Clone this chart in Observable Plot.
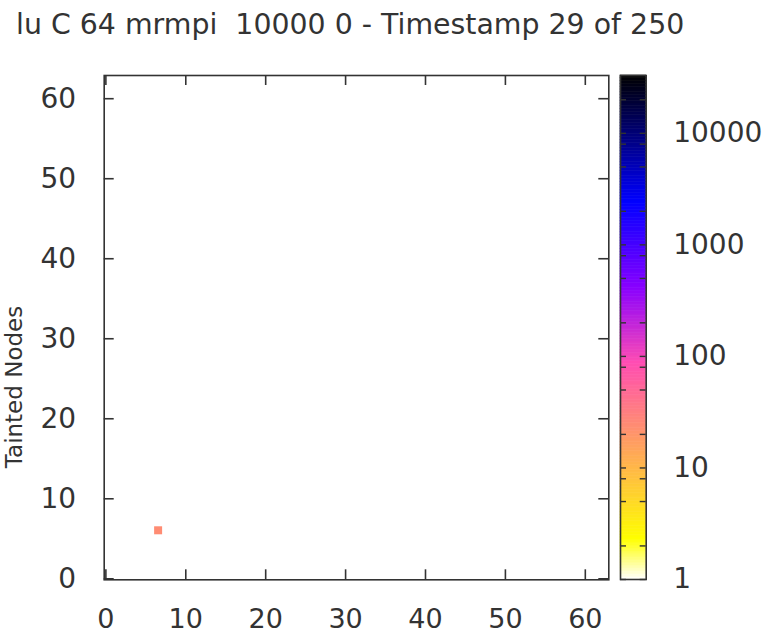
<!DOCTYPE html>
<html><head><meta charset="utf-8">
<script src="https://cdn.jsdelivr.net/npm/d3@7"></script>
<script src="https://cdn.jsdelivr.net/npm/@observablehq/plot@0.6"></script>
<style>
body{margin:0;background:#fff;}
#wrap{position:relative;width:781px;height:634px;overflow:hidden;font-family:"DejaVu Sans",sans-serif;}
#wrap svg{position:absolute;left:0;top:0;}
</style></head><body><div id="wrap"></div>
<script>
// ---- data ----
const titleText = "lu C 64 mrmpi  10000 0 - Timestamp 29 of 250";
const yLabelText = "Tainted Nodes";
const xTicks = [0, 10, 20, 30, 40, 50, 60];
const yTicks = [0, 10, 20, 30, 40, 50, 60];
const cellX = [6.6];
const cellY = [6.0];
const cellValue = [24];
const cbLabelTicks = [1, 10, 100, 1000, 10000];
const cbMinorTicks = [2, 5, 8, 20, 50, 80, 200, 500, 800, 2000, 5000, 8000, 20000];
const cbMin = 1, cbMax = 33000;

// gnuplot palette: negative rgbformulae 30,31,32
function gnuPalette(t) {
  const x = 1 - t;
  const c = v => Math.max(0, Math.min(1, v));
  const r = c(x / 0.32 - 0.78125);
  const g = c(2 * x - 0.84);
  let b;
  if (x < 0.25) b = 4 * x;
  else if (x < 0.42) b = 1;
  else if (x < 0.92) b = -2 * x + 1.84;
  else b = x / 0.08 - 11.5;
  b = c(b);
  return d3.rgb(r * 255, g * 255, b * 255).formatRgb();
}
const colorOpts = {type: "log", domain: [cbMin, cbMax], interpolate: gnuPalette};

const W = 781, H = 634;
const mL = 103.7, mR = W - 608.3, mT = 75, mB = H - 579.3;
const innerW = W - mL - mR, innerH = H - mT - mB;
const tickLen = 10;
const frameColor = "#333";
const textColor = "#333";

const cells = cellX.map((x, i) => ({x, y: cellY[i], v: cellValue[i]}));

const main = Plot.plot({
  width: W, height: H,
  marginLeft: mL, marginRight: mR, marginTop: mT, marginBottom: mB,
  style: {fontFamily: "DejaVu Sans", fontSize: "28px", color: textColor, background: "white"},
  x: {domain: [-0.21, 62.94]},
  y: {domain: [-0.125, 62.9]},
  color: colorOpts,
  marks: [
    Plot.rect(cells, {x1: d => d.x - 0.5, x2: d => d.x + 0.5, y1: d => d.y - 0.5, y2: d => d.y + 0.5, fill: "v"}),
    Plot.frame({stroke: frameColor, strokeWidth: 1.6}),
    Plot.ruleX(xTicks, {insetTop: innerH - tickLen, stroke: frameColor, strokeWidth: 1.6}),
    Plot.ruleX(xTicks, {insetBottom: innerH - tickLen, stroke: frameColor, strokeWidth: 1.6}),
    Plot.ruleY(yTicks, {insetRight: innerW - tickLen, stroke: frameColor, strokeWidth: 1.6}),
    Plot.ruleY(yTicks, {insetLeft: innerW - tickLen, stroke: frameColor, strokeWidth: 1.6}),
    Plot.axisX(xTicks, {tickSize: 0, tickPadding: 29.5, fontSize: 27, label: null, fill: textColor}),
    Plot.axisY(yTicks, {tickSize: 0, tickPadding: 28, fontSize: 28, label: null, fill: textColor})
  ]
});

// colorbar
const cbL = 620, cbR = 645.7, cbT = 75, cbB = 579;
const nSteps = 180;
const L = Math.log10(cbMax / cbMin);
const bands = d3.range(nSteps).map(i => ({
  y1: cbMin * 10 ** (L * i / nSteps),
  y2: cbMin * 10 ** (L * (i + 1) / nSteps)
}));
const cbW = cbR - cbL;
const cbTickLen = 6;
const cbAll = cbLabelTicks.concat(cbMinorTicks);
const cb = Plot.plot({
  width: W, height: H,
  marginLeft: cbL, marginRight: W - cbR, marginTop: cbT, marginBottom: H - cbB,
  style: {fontFamily: "DejaVu Sans", fontSize: "28px", color: textColor, background: "transparent"},
  y: {type: "log", domain: [cbMin, cbMax]},
  color: colorOpts,
  marks: [
    Plot.rect(bands, {y1: "y1", y2: "y2", fill: d => Math.sqrt(d.y1 * d.y2), stroke: d => Math.sqrt(d.y1 * d.y2), strokeWidth: 0.6}),
    Plot.ruleY(cbAll, {insetRight: cbW - cbTickLen, stroke: frameColor, strokeWidth: 1.4}),
    Plot.ruleY(cbAll, {insetLeft: cbW - cbTickLen, stroke: frameColor, strokeWidth: 1.4}),
    Plot.frame({stroke: frameColor, strokeWidth: 1.6}),
    Plot.axisY(cbLabelTicks, {anchor: "right", tickSize: 0, tickPadding: 27, fontSize: 28, label: null, tickFormat: d => String(d), fill: textColor})
  ]
});

const wrap = document.getElementById("wrap");
wrap.appendChild(main);
wrap.appendChild(cb);

// title and y label
const svg = d3.select(main);
svg.append("text")
  .attr("x", 16).attr("y", 34)
  .attr("text-anchor", "start")
  .attr("font-family", "DejaVu Sans").attr("font-size", 28.4)
  .attr("fill", textColor)
  .attr("xml:space", "preserve")
  .style("white-space", "pre")
  .text(titleText);
svg.append("text")
  .attr("transform", "translate(22,387) rotate(-90)")
  .attr("text-anchor", "middle")
  .attr("font-family", "DejaVu Sans").attr("font-size", 23)
  .attr("fill", textColor)
  .text(yLabelText);
</script></body></html>
